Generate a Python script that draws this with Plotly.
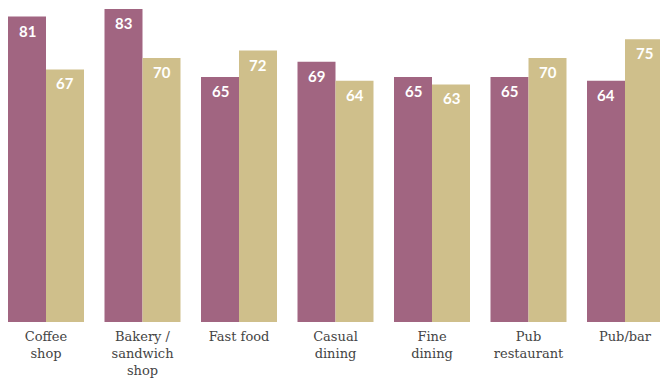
import plotly.graph_objects as go

categories = ["Coffee<br>shop", "Bakery /<br>sandwich<br>shop", "Fast food", "Casual<br>dining",
              "Fine<br>dining", "Pub<br>restaurant", "Pub/bar"]
series_a = [81, 83, 65, 69, 65, 65, 64]
series_b = [67, 70, 72, 64, 63, 70, 75]

PURPLE = "#a16581"
BEIGE = "#cfbf8b"

fig = go.Figure()
fig.add_trace(go.Bar(x=categories, y=series_a, marker_color=PURPLE, marker_line_width=0,
                     hoverinfo="skip"))
fig.add_trace(go.Bar(x=categories, y=series_b, marker_color=BEIGE, marker_line_width=0,
                     hoverinfo="skip"))

annotations = []
for vals, shift in ((series_a, -19), (series_b, 19)):
    for c, v in zip(categories, vals):
        annotations.append(dict(x=c, y=v, xref="x", yref="y", text=str(v), showarrow=False,
                                xshift=shift, yanchor="top", yshift=-3,
                                font=dict(family="Lato", size=15, color="white", weight="bold")))

fig.update_layout(
    width=660, height=378,
    margin=dict(l=0, r=0, t=0, b=56),
    paper_bgcolor="white", plot_bgcolor="white",
    barmode="group", bargap=0.2124, bargroupgap=0,
    showlegend=False,
    annotations=annotations,
    xaxis=dict(range=[-0.4767, 6.3627], showgrid=False, showline=False, ticks="",
               tickfont=dict(family="DejaVu Serif", size=13, color="#444444"),
               ticklabelstandoff=5, automargin=False),
    yaxis=dict(range=[0, 85.4], visible=False, showgrid=False),
)

fig.write_html("out.html", config={"displayModeBar": False},
               post_script="document.body.style.margin='0';document.body.style.overflow='hidden';")
